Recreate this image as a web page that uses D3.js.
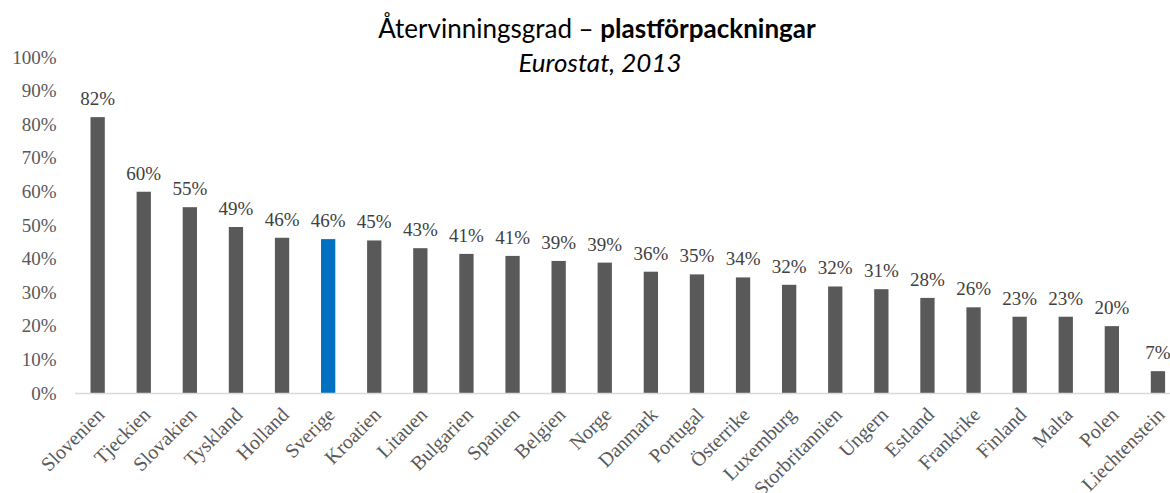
<!DOCTYPE html>
<html>
<head>
<meta charset="utf-8">
<script src="https://cdn.jsdelivr.net/npm/d3@7"></script>
<style>
  body { margin: 0; background: #fff; }
  text { font-family: "Liberation Serif", "Times New Roman", serif; }
</style>
</head>
<body>
<div id="chart"></div>
<script>
// data
var countries = ["Slovenien", "Tjeckien", "Slovakien", "Tyskland", "Holland", "Sverige",
  "Kroatien", "Litauen", "Bulgarien", "Spanien", "Belgien", "Norge", "Danmark", "Portugal",
  "Österrike", "Luxemburg", "Storbritannien", "Ungern", "Estland", "Frankrike", "Finland",
  "Malta", "Polen", "Liechtenstein"];
var rates = [82.1, 59.9, 55.3, 49.4, 46.2, 45.8, 45.4, 43.1, 41.4, 40.8, 39.3, 38.8, 36.1,
  35.3, 34.4, 32.2, 31.7, 30.9, 28.3, 25.5, 22.7, 22.7, 19.9, 6.5];
var highlight = "Sverige";
var yTicks = [0, 10, 20, 30, 40, 50, 60, 70, 80, 90, 100];

var width = 1170, height = 493;
var margin = {top: 57, left: 74.6, bottom: 100};

var svg = d3.select("#chart")
  .append("svg")
    .attr("width", width)
    .attr("height", height);

// scales
var x = d3.scaleBand()
  .domain(countries)
  .range([margin.left, 1181])
  .paddingInner(0.69)
  .paddingOuter(0.345);

var y = d3.scaleLinear()
  .domain([0, 100])
  .range([393, margin.top]);

// title
svg.append("text")
    .attr("x", 597)
    .attr("y", 38)
    .attr("text-anchor", "middle")
    .style("font-family", "Lato, sans-serif")
    .style("font-size", "26px")
    .attr("fill", "#000")
    .text("Återvinningsgrad – ")
  .append("tspan")
    .attr("font-weight", "bold")
    .text("plastförpackningar");

svg.append("text")
    .attr("x", 600)
    .attr("y", 72)
    .attr("text-anchor", "middle")
    .style("font-family", "Lato, sans-serif")
    .style("font-size", "26px")
    .style("font-style", "italic")
    .attr("fill", "#000")
    .text("Eurostat, 2013");

// y axis, labels only
var yAxis = svg.append("g")
    .attr("transform", "translate(" + (margin.left - 18) + ",0)")
    .call(d3.axisLeft(y).tickValues(yTicks).tickSize(0).tickPadding(0)
      .tickFormat(function (d) { return d + "%"; }));
yAxis.select(".domain").remove();
yAxis.selectAll("text")
    .attr("fill", "#595959")
    .style("font-size", "19px")
    .style("font-family", "'Liberation Serif', serif");

// bars
svg.selectAll(".bar")
  .data(countries)
  .enter().append("rect")
    .attr("class", "bar")
    .attr("x", function (d) { return x(d); })
    .attr("width", x.bandwidth())
    .attr("y", function (d, i) { return y(rates[i]); })
    .attr("height", function (d, i) { return y(0) - y(rates[i]); })
    .attr("fill", function (d) { return d === highlight ? "#0070c0" : "#595959"; });

// value labels
svg.selectAll(".value")
  .data(countries)
  .enter().append("text")
    .attr("class", "value")
    .attr("x", function (d) { return x(d) + x.bandwidth() / 2; })
    .attr("y", function (d, i) { return y(rates[i]) - 12; })
    .attr("text-anchor", "middle")
    .attr("fill", "#404040")
    .style("font-size", "19px")
    .text(function (d, i) { return Math.round(rates[i]) + "%"; });

// x axis
var xAxis = svg.append("g")
    .attr("transform", "translate(0," + y(0) + ")")
    .call(d3.axisBottom(x).tickSize(0).tickPadding(0));
xAxis.select(".domain")
    .attr("stroke", "#d9d9d9")
    .attr("stroke-width", 1.5);
xAxis.selectAll("text")
    .attr("fill", "#595959")
    .style("font-size", "20px")
    .style("font-family", "'Liberation Serif', serif")
    .attr("text-anchor", "end")
    .attr("dy", "0.35em")
    .attr("transform", "translate(3,18) rotate(-45)");
</script>
</body>
</html>
